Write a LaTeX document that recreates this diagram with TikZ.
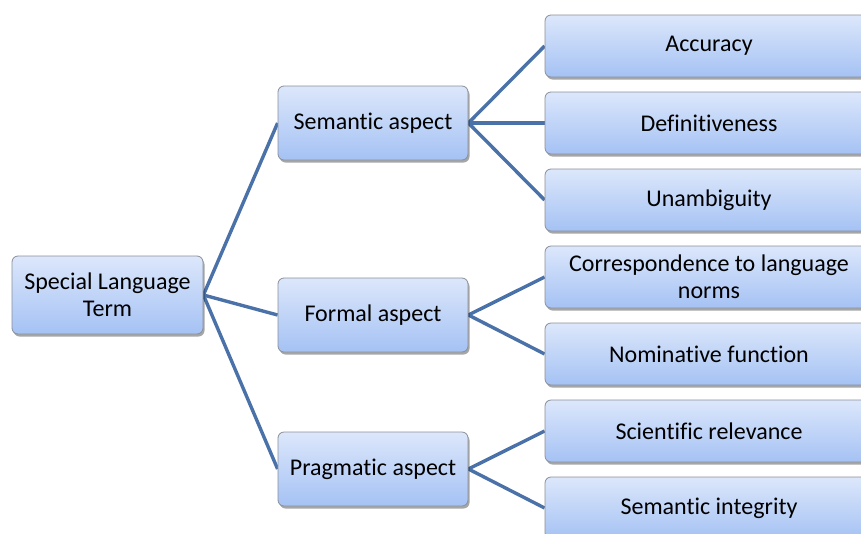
\documentclass[tikz,border=0pt]{standalone}
\usepackage{fontspec}
\setmainfont{Carlito}[Ligatures={NoCommon}]
\usetikzlibrary{shadows,backgrounds}
\definecolor{topc}{HTML}{DCE7FB}
\definecolor{botc}{HTML}{A5C2F4}
\definecolor{linec}{HTML}{4A72A8}
\definecolor{bordc}{HTML}{8A8F98}
\begin{document}
\begin{tikzpicture}[x=1pt,y=-1pt,
  box/.style={draw=bordc, line width=0.8pt, rounded corners=6pt,
    top color=topc, bottom color=botc,
    drop shadow={shadow xshift=1.5pt,shadow yshift=-2.5pt,opacity=0.35,fill=black},
    font=\fontsize{24}{27}\selectfont, align=center, inner sep=0pt, text=black},
  rootbox/.style={box, minimum width=191pt, minimum height=78pt},
  aspbox/.style={box, minimum width=190pt, minimum height=74pt},
  leafbox/.style={box, minimum width=328pt, minimum height=62pt},
  conn/.style={draw=linec, line width=3.4pt}]
\clip (0,0) rectangle (861,533);
\node[rootbox] (root) at (107.5,295) {Special Language\\Term};
\node[aspbox] (sem) at (373,123) {Semantic aspect};
\node[aspbox] (form) at (373,315) {Formal aspect};
\node[aspbox] (prag) at (373,469) {Pragmatic aspect};
\node[leafbox] (acc) at (709,46) {Accuracy};
\node[leafbox] (def) at (709,123) {Definitiveness};
\node[leafbox] (una) at (709,200) {Unambiguity};
\node[leafbox] (cor) at (709,277) {Correspondence to language\\norms};
\node[leafbox] (nom) at (709,354) {Nominative function};
\node[leafbox] (sci) at (709,431) {Scientific relevance};
\node[leafbox] (int) at (709,508) {Semantic integrity};
\begin{scope}[on background layer]
\draw[conn] (root.east) -- (sem.west);
\draw[conn] (root.east) -- (form.west);
\draw[conn] (root.east) -- (prag.west);
\draw[conn] (sem.east) -- (acc.west);
\draw[conn] (sem.east) -- (def.west);
\draw[conn] (sem.east) -- (una.west);
\draw[conn] (form.east) -- (cor.west);
\draw[conn] (form.east) -- (nom.west);
\draw[conn] (prag.east) -- (sci.west);
\draw[conn] (prag.east) -- (int.west);
\end{scope}
\end{tikzpicture}
\end{document}
